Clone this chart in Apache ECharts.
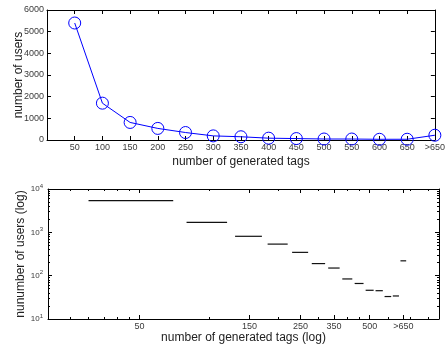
<!DOCTYPE html>
<html>
<head>
<meta charset="utf-8">
<script src="https://cdn.jsdelivr.net/npm/echarts@6.0.0/dist/echarts.min.js"></script>
<style>
html,body{margin:0;padding:0;background:#fff;}
#chart{width:448px;height:348px;}
</style>
</head>
<body>
<div id="chart"></div>
<script>
// ---- data ----
const categories = ['50','100','150','200','250','300','350','400','450','500','550','600','650','>650'];
const users = [5400, 1700, 810, 535, 345, 190, 150, 84, 66, 46, 45, 33, 34, 220];
const binCenters = [50,100,150,200,250,300,350,400,450,500,550,600,650,700];
const binHalfWidth = 20;
const logXTickValues = [50, 150, 250, 350, 500, 700];
const logXTickLabels = ['50', '150', '250', '350', '500', '>650'];
const logXMinorTicks = [25, 30, 35, 40, 45, 100, 200, 300, 400, 450, 600, 750, 900];
const logYTickValues = [10, 100, 1000, 10000];
const logYMinorTicks = [20,30,40,50,60,70,80,90,200,300,400,500,600,700,800,900,2000,3000,4000,5000,6000,7000,8000,9000];

const FONT = '"Liberation Sans", Arial, Helvetica, sans-serif';
const chart = echarts.init(document.getElementById('chart'), null, {renderer: 'canvas'});

function ax(extra) {
  return Object.assign({
    axisLine: {show: true, onZero: false, lineStyle: {color: '#000', width: 1}},
    splitLine: {show: false},
    axisTick: {show: true, inside: true, length: 4, lineStyle: {color: '#000', width: 1}},
    axisLabel: {show: false},
    nameMoveOverlap: false,
    nameTextStyle: {fontFamily: FONT, fontSize: 12, color: '#222'}
  }, extra);
}
const tickLabel = {show: true, fontFamily: FONT, fontSize: 9, color: '#3a3a3a', margin: 3};

// top chart x: index positions 1..n
const topX = {type: 'value', min: 0, max: categories.length, interval: 1, gridIndex: 0};
// bottom chart x: log
const botX = {type: 'log', logBase: 10, min: 20, max: 1000, gridIndex: 1};
const botY = {type: 'log', logBase: 10, min: 10, max: 10000, gridIndex: 1};

const xAxes = [
  ax(Object.assign({}, topX, {
    position: 'bottom',
    axisLabel: Object.assign({}, tickLabel, {formatter: v => (v >= 1 && v <= categories.length) ? categories[v - 1] : ''}),
    name: 'number of generated tags', nameLocation: 'middle', nameGap: 16
  })),
  ax(Object.assign({}, topX, {position: 'top'})),
  ax(Object.assign({}, botX, {
    position: 'bottom',
    axisTick: {show: true, inside: true, length: 4, customValues: logXTickValues, lineStyle: {color: '#000'}},
    axisLabel: Object.assign({}, tickLabel, {customValues: logXTickValues,
      formatter: v => { const i = logXTickValues.findIndex(t => Math.abs(t - v) < 1e-6 * t); return i >= 0 ? logXTickLabels[i] : ''; }}),
    name: 'number of generated tags (log)', nameLocation: 'middle', nameGap: 13
  })),
  ax(Object.assign({}, botX, {position: 'bottom', axisLine: {show: false},
    axisTick: {show: true, inside: true, length: 2, customValues: logXMinorTicks, lineStyle: {color: '#000'}}})),
  ax(Object.assign({}, botX, {position: 'top',
    axisTick: {show: true, inside: true, length: 4, customValues: logXTickValues, lineStyle: {color: '#000'}}})),
  ax(Object.assign({}, botX, {position: 'top', axisLine: {show: false},
    axisTick: {show: true, inside: true, length: 2, customValues: logXMinorTicks, lineStyle: {color: '#000'}}}))
];

const yAxes = [
  ax({type: 'value', min: 0, max: 6000, interval: 1000, gridIndex: 0, position: 'left',
    axisLabel: Object.assign({}, tickLabel, {margin: 3, formatter: v => String(v)}),
    name: 'number of users', nameLocation: 'middle', nameGap: 22}),
  ax({type: 'value', min: 0, max: 6000, interval: 1000, gridIndex: 0, position: 'right'}),
  ax(Object.assign({}, botY, {position: 'left',
    axisTick: {show: true, inside: true, length: 4, customValues: logYTickValues, lineStyle: {color: '#000'}},
    axisLabel: Object.assign({}, tickLabel, {customValues: logYTickValues, margin: 5,
      formatter: v => '{b|10}{s|' + Math.round(Math.log10(v)) + '}',
      rich: {b: {fontFamily: FONT, fontSize: 8, color: '#3a3a3a'}, s: {fontFamily: FONT, fontSize: 6, color: '#3a3a3a', verticalAlign: 'top', padding: [0, 0, 6, 0]}}}),
    name: 'nunumber of users (log)', nameLocation: 'middle', nameGap: 21})),
  ax(Object.assign({}, botY, {position: 'left', axisLine: {show: false},
    axisTick: {show: true, inside: true, length: 2, customValues: logYMinorTicks, lineStyle: {color: '#000'}}})),
  ax(Object.assign({}, botY, {position: 'right',
    axisTick: {show: true, inside: true, length: 4, customValues: logYTickValues, lineStyle: {color: '#000'}}})),
  ax(Object.assign({}, botY, {position: 'right', axisLine: {show: false},
    axisTick: {show: true, inside: true, length: 2, customValues: logYMinorTicks, lineStyle: {color: '#000'}}}))
];

const topData = users.map((u, i) => [i + 1, u]);
const segData = users.map((u, i) => [binCenters[i] - binHalfWidth, binCenters[i] + binHalfWidth, u]);

chart.setOption({
  animation: false,
  backgroundColor: '#fff',
  textStyle: {fontFamily: FONT},
  grid: [
    {left: 47, top: 10, width: 393, height: 130, containLabel: false},
    {left: 48, top: 189, width: 391, height: 130, containLabel: false}
  ],
  xAxis: xAxes,
  yAxis: yAxes,
  series: [
    {
      type: 'line', xAxisIndex: 0, yAxisIndex: 0, data: topData,
      symbol: 'circle', symbolSize: 12, clip: false,
      lineStyle: {color: '#0000ff', width: 1},
      itemStyle: {color: 'rgba(0,0,0,0)', borderColor: '#0000ff', borderWidth: 1}
    },
    {
      type: 'custom', xAxisIndex: 2, yAxisIndex: 2, data: segData,
      encode: {x: [0, 1], y: 2},
      renderItem: function (params, api) {
        const a = api.coord([api.value(0), api.value(2)]);
        const b = api.coord([api.value(1), api.value(2)]);
        return {type: 'line', shape: {x1: a[0], y1: a[1], x2: b[0], y2: b[1]},
          style: {stroke: '#111', lineWidth: 1.2}};
      }
    }
  ]
});
</script>
</body>
</html>
